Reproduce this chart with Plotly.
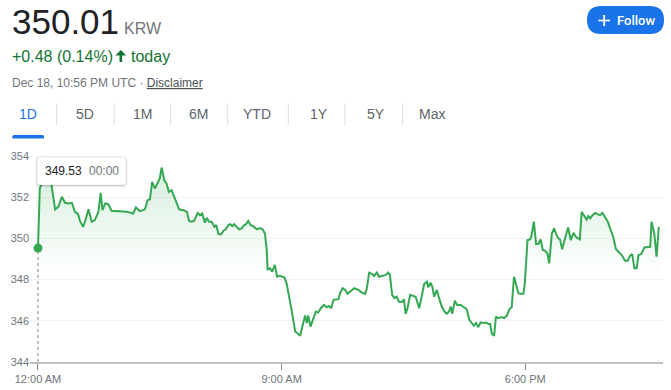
import numpy as np
import plotly.graph_objects as go

# ---------------- data ----------------
minutes = [0, 4, 8, 13, 19, 24, 30, 38, 45, 53, 60, 67, 75, 82, 89, 93, 100, 104, 112, 119, 126, 134, 139, 143, 149, 156, 163,
           197, 204, 211, 217, 222, 226, 237, 243, 248, 253, 259, 265, 270, 274, 280, 285, 290, 296, 302, 307, 313, 322, 330,
           335, 341, 346, 354, 359, 364, 370, 374, 379, 385, 391, 395, 400, 406, 411, 416, 422, 426, 431, 435, 440, 446, 452,
           455, 461, 466, 471, 479, 485, 492, 498, 503, 507, 509, 514, 519, 525, 530, 536, 546, 551, 557, 562, 567, 570, 575,
           581, 586, 592, 596, 599, 604, 610, 616, 621, 627, 634, 640, 645, 650, 655, 661, 666, 669, 675, 681, 686, 692, 701,
           710, 718, 725, 729, 734, 741, 745, 751, 756, 763, 771, 776, 780, 785, 790, 795, 800, 808, 811, 815, 819, 825, 832,
           837, 845, 851, 856, 862, 865, 870, 874, 878, 884, 889, 895, 901, 906, 911, 915, 918, 924, 929, 937, 944, 950, 956,
           961, 966, 971, 976, 981, 987, 993, 998, 1002, 1006, 1011, 1015, 1020, 1028, 1033, 1039, 1045, 1050, 1055, 1060,
           1065, 1070, 1076, 1079, 1085, 1091, 1094, 1099, 1104, 1109, 1114, 1119, 1124, 1129, 1133, 1139, 1144, 1148, 1152,
           1157, 1162, 1168, 1175, 1181, 1187, 1192, 1198, 1201, 1205, 1211, 1216, 1220, 1224, 1229, 1235, 1240, 1246, 1251,
           1257, 1263, 1268, 1275, 1281, 1286, 1294, 1301, 1307, 1312, 1317, 1322, 1327, 1331, 1337, 1344, 1351, 1357, 1360,
           1366, 1371, 1376]
prices = [349.53, 352.42, 352.66, 353.30, 353.95, 353.20, 352.58, 351.41, 351.53, 352.02, 351.73, 351.70, 351.73, 351.29,
          351.18, 350.85, 350.56, 350.81, 351.41, 350.81, 350.89, 351.29, 352.21, 351.37, 351.70, 351.66, 351.34,
          351.29, 351.24, 351.21, 351.50, 351.41, 351.32, 351.41, 351.86, 351.89, 352.74, 352.42, 352.74, 352.91, 353.44,
          352.82, 352.66, 352.26, 352.34, 352.02, 351.70, 351.41, 351.37, 351.29, 350.85, 350.81, 350.85, 351.24, 351.13,
          351.21, 350.76, 351.00, 350.81, 350.81, 350.56, 350.65, 350.21, 350.20, 350.37, 350.44, 350.65, 350.69, 350.60,
          350.69, 350.56, 350.44, 350.49, 350.60, 350.69, 350.85, 350.65, 350.56, 350.44, 350.50, 350.44, 350.24, 349.44,
          348.50, 348.55, 348.39, 348.71, 348.14, 348.18, 348.11, 347.82, 347.17, 346.53, 345.89, 345.48, 345.40, 345.27,
          345.72, 346.26, 345.89, 346.26, 345.72, 346.13, 346.45, 346.40, 346.61, 346.77, 346.66, 346.72, 346.61, 347.02,
          347.05, 347.05, 347.31, 347.58, 347.50, 347.31, 347.42, 347.58, 347.50, 347.37, 347.31, 347.58, 348.34, 348.27,
          348.18, 348.34, 348.14, 348.18, 348.23, 348.34, 348.23, 347.26, 347.10, 347.17, 346.93, 346.93, 347.05, 346.34,
          346.61, 347.26, 347.21, 347.17, 346.61, 347.17, 347.79, 347.90, 347.63, 347.85, 347.66, 347.17, 347.50, 347.10,
          346.69, 346.45, 346.34, 346.45, 346.69, 346.34, 346.98, 346.77, 346.77, 346.66, 346.57, 346.05, 345.89, 345.76,
          345.89, 345.69, 345.92, 345.89, 345.92, 345.85, 345.85, 345.37, 345.27, 346.21, 346.13, 346.18, 346.13, 346.24,
          346.57, 346.66, 348.14, 347.74, 347.34, 347.31, 347.31, 347.82, 349.92, 349.95, 350.16, 350.81, 349.73, 349.73,
          349.95, 349.44, 349.40, 349.28, 348.79, 350.24, 350.49, 350.24, 350.05, 349.95, 349.47, 350.00, 350.53, 349.92,
          350.27, 350.08, 350.00, 349.95, 351.29, 351.05, 350.92, 351.08, 350.97, 351.13, 351.24, 351.18, 351.13, 351.24,
          351.05, 350.81, 350.49, 350.08, 349.47, 349.35, 349.19, 348.92, 348.92, 349.15, 349.24, 348.55, 348.55, 349.19,
          349.24, 349.56, 349.59, 349.59, 350.81, 350.24, 349.11, 350.56]

x_tick_minutes = [0, 540, 1080]
x_tick_labels = ["12:00 AM", "9:00 AM", "6:00 PM"]
y_ticks = [344, 346, 348, 350, 352, 354]

last_price = "350.01"
currency = "KRW"
change_text = "+0.48 (0.14%)"
timestamp_text = "Dec 18, 10:56 PM UTC · "
tabs = ["1D", "5D", "1M", "6M", "YTD", "1Y", "5Y", "Max"]
tooltip_time = "00:00"

# ---------------- geometry helpers ----------------
W, H = 671, 390
L, R, T, B = 30, 663, 156, 362
PW, PH = R - L, B - T
FONT = "Arial, Liberation Sans, sans-serif"


def px(x):
    return (x - L) / PW


def py(y):
    return (B - y) / PH


def path_from(points):
    s = ""
    for cmd, pts in points:
        s += cmd + " " + " ".join(f"{px(a):.5f},{py(b):.5f}" for a, b in pts) + " "
    return s + "Z"


def rounded_rect(x0, y0, x1, y1, r, top_only=False):
    rb = 0 if top_only else r
    pts = [("M", [(x0 + r, y0)]), ("L", [(x1 - r, y0)]), ("Q", [(x1, y0), (x1, y0 + r)]),
           ("L", [(x1, y1 - rb)])]
    if rb:
        pts.append(("Q", [(x1, y1), (x1 - rb, y1)]))
    pts.append(("L", [(x0 + rb, y1)]))
    if rb:
        pts.append(("Q", [(x0, y1), (x0, y1 - rb)]))
    pts += [("L", [(x0, y0 + r)]), ("Q", [(x0, y0), (x0 + r, y0)])]
    return path_from(pts)


annotations = []
shapes = []


def ann(text, x, y, size, color, xanchor="left", family=FONT, weight=None):
    f = dict(size=size, color=color, family=family)
    if weight:
        f["weight"] = weight
    annotations.append(dict(text=text, x=px(x), y=py(y), xref="paper", yref="paper", xanchor=xanchor,
                            yanchor="middle", showarrow=False, font=f, borderpad=0, borderwidth=0))


GREEN_LINE = "#34a853"
fill_base = 348.1

fig = go.Figure()
t = np.array(minutes, dtype=float)
v = np.array(prices, dtype=float)

# baseline for gradient fill
fig.add_trace(go.Scatter(x=t, y=np.full(len(t), fill_base), mode="lines", line=dict(width=0),
                         hoverinfo="skip", showlegend=False))
fig.add_trace(go.Scatter(x=t, y=np.maximum(v, fill_base), mode="lines", line=dict(width=0),
                         fill="tonexty",
                         fillgradient=dict(type="vertical", start=fill_base, stop=353.6,
                                           colorscale=[[0, "rgba(52,168,83,0)"], [1, "rgba(52,168,83,0.2)"]]),
                         hoverinfo="skip", showlegend=False))
fig.add_trace(go.Scatter(x=t, y=v, mode="lines", line=dict(color=GREEN_LINE, width=2),
                         hoverinfo="skip", showlegend=False))
fig.add_trace(go.Scatter(x=[t[0]], y=[v[0]], mode="markers",
                         marker=dict(color=GREEN_LINE, size=9), hoverinfo="skip", showlegend=False,
                         cliponaxis=False))

# dotted hover line
shapes.append(dict(type="line", xref="x", yref="y", x0=t[0], x1=t[0], y0=y_ticks[0], y1=v[0],
                   line=dict(color="#80868b", width=1, dash="dot"), layer="between"))

# tooltip
for i, a in enumerate([0.03, 0.05, 0.08]):
    o = 3 - i
    shapes.append(dict(type="path", xref="paper", yref="paper",
                       path=rounded_rect(37 - o + 1, 157 - o + 2, 126 + o - 1, 185 + o, 4),
                       fillcolor=f"rgba(0,0,0,{a})", line=dict(width=0), layer="above"))
shapes.append(dict(type="path", xref="paper", yref="paper", path=rounded_rect(37, 157, 126, 185, 3),
                   fillcolor="white", line=dict(color="rgba(0,0,0,0.08)", width=1), layer="above"))
ann(f"{v[0]:.2f}", 45, 171, 12, "#202124")
ann(tooltip_time, 89, 171, 12, "#70757a")

# header
ann(last_price, 12, 21.5, 35, "#202124")
ann(currency, 123.5, 28.5, 16, "#70757a")
ann(change_text, 12, 56.5, 16, "#137333")
arrow_pts = [(120.8, 50.0), (126.2, 55.6), (122.1, 55.6), (122.1, 62.0), (119.5, 62.0), (119.5, 55.6), (115.4, 55.6)]
arrow = path_from([("M", [arrow_pts[0]])] + [("L", [p]) for p in arrow_pts[1:]])
shapes.append(dict(type="path", xref="paper", yref="paper", path=arrow, fillcolor="#137333",
                   line=dict(width=0), layer="above"))
ann("today", 131, 56.5, 16, "#137333")
ann(timestamp_text + "<span style='color:#4d5156'><u>Disclaimer</u></span>", 12, 83, 12, "#70757a")

# follow button
shapes.append(dict(type="path", xref="paper", yref="paper", path=rounded_rect(587, 6, 664, 34, 14),
                   fillcolor="#1a73e8", line=dict(width=0), layer="above"))
shapes.append(dict(type="line", xref="paper", yref="paper", x0=px(598.5), x1=px(610), y0=py(20.5), y1=py(20.5),
                   line=dict(color="white", width=1.8), layer="above"))
shapes.append(dict(type="line", xref="paper", yref="paper", x0=px(604.2), x1=px(604.2), y0=py(15), y1=py(26),
                   line=dict(color="white", width=1.8), layer="above"))
ann("Follow", 617, 20, 13, "white", family="Roboto, Arial, sans-serif", weight=500)

# tabs
tab_centers = [28.3, 84.7, 142.5, 198.8, 256.7, 318.8, 375.5, 432.2]
for i, (name, c) in enumerate(zip(tabs, tab_centers)):
    ann(name, c, 114, 14, "#1a73e8" if i == 0 else "#5f6368", xanchor="center")
for sx in [56.7, 114, 170.7, 227.7, 288.3, 345, 402.7]:
    shapes.append(dict(type="line", xref="paper", yref="paper", x0=px(sx), x1=px(sx), y0=py(103.5), y1=py(125),
                       line=dict(color="#dadce0", width=1), layer="above"))
shapes.append(dict(type="path", xref="paper", yref="paper", path=rounded_rect(12.3, 135, 44, 138.5, 1.6, top_only=True),
                   fillcolor="#1a73e8", line=dict(width=0), layer="above"))

fig.update_layout(
    width=W, height=H,
    margin=dict(l=L, r=W - R, t=T, b=H - B, pad=0, autoexpand=False),
    paper_bgcolor="white", plot_bgcolor="white",
    showlegend=False, hovermode=False,
    annotations=annotations, shapes=shapes,
    font=dict(family=FONT),
    xaxis=dict(range=[-17.7, 1385.3], tickvals=x_tick_minutes, ticktext=x_tick_labels, automargin=False,
               showgrid=False, zeroline=False, showline=True, linecolor="#bdc1c6", linewidth=2,
               ticks="outside", ticklen=6, tickcolor="#80868b", tickwidth=1,
               tickfont=dict(size=11, color="#70757a", family=FONT), fixedrange=True),
    yaxis=dict(range=[344, 354], tickvals=y_ticks, ticktext=[str(y) for y in y_ticks], automargin=False,
               showgrid=True, gridcolor="#f1f1f1", gridwidth=1, zeroline=False, showline=False,
               ticks="", tickfont=dict(size=11, color="#70757a", family=FONT), fixedrange=True),
)

fig.write_html("out.html", config={"displayModeBar": False},
               post_script="document.body.style.margin='0';document.body.style.padding='0';")
